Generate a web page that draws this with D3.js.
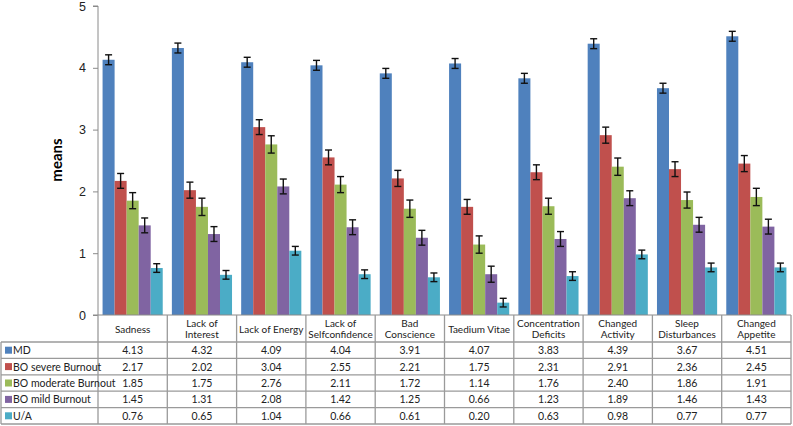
<!DOCTYPE html>
<html>
<head>
<meta charset="utf-8">
<script src="https://cdn.jsdelivr.net/npm/d3@7"></script>
<style>
  body { margin: 0; background: #fff; }
  svg { display: block; font-family: Lato, "Liberation Sans", sans-serif; }
</style>
</head>
<body>
<div id="wrapper"></div>
<script>
const categories = ["Sadness", "Lack of Interest", "Lack of Energy", "Lack of Selfconfidence",
  "Bad Conscience", "Taedium Vitae", "Concentration Deficits", "Changed Activity",
  "Sleep Disturbances", "Changed Appetite"]
const categoryLines = [["Sadness"], ["Lack of", "Interest"], ["Lack of Energy"], ["Lack of", "Selfconfidence"],
  ["Bad", "Conscience"], ["Taedium Vitae"], ["Concentration", "Deficits"], ["Changed", "Activity"],
  ["Sleep", "Disturbances"], ["Changed", "Appetite"]]
const seriesNames = ["MD", "BO severe Burnout", "BO moderate Burnout", "BO mild Burnout", "U/A"]

const md       = [4.13, 4.32, 4.09, 4.04, 3.91, 4.07, 3.83, 4.39, 3.67, 4.51]
const severe   = [2.17, 2.02, 3.04, 2.55, 2.21, 1.75, 2.31, 2.91, 2.36, 2.45]
const moderate = [1.85, 1.75, 2.76, 2.11, 1.72, 1.14, 1.76, 2.40, 1.86, 1.91]
const mild     = [1.45, 1.31, 2.08, 1.42, 1.25, 0.66, 1.23, 1.89, 1.46, 1.43]
const ua       = [0.76, 0.65, 1.04, 0.66, 0.61, 0.20, 0.63, 0.98, 0.77, 0.77]

// error bar half-widths (estimated)
const mdErr       = [0.08, 0.08, 0.08, 0.08, 0.08, 0.08, 0.08, 0.08, 0.08, 0.08]
const severeErr   = [0.12, 0.13, 0.12, 0.12, 0.13, 0.12, 0.12, 0.13, 0.12, 0.13]
const moderateErr = [0.13, 0.14, 0.14, 0.13, 0.14, 0.14, 0.13, 0.14, 0.13, 0.14]
const mildErr     = [0.12, 0.12, 0.12, 0.12, 0.12, 0.13, 0.12, 0.12, 0.12, 0.12]
const uaErr       = [0.07, 0.07, 0.07, 0.07, 0.07, 0.07, 0.07, 0.07, 0.07, 0.07]

const yTicks = [0, 1, 2, 3, 4, 5]
const colors = ["#4F81BD", "#C0504D", "#9BBB59", "#8064A2", "#4BACC6"]

const seriesValues = [md, severe, moderate, mild, ua]
const seriesErrors = [mdErr, severeErr, moderateErr, mildErr, uaErr]

const width = 793, height = 426
const plotLeft = 98, plotRight = 791, plotTop = 6, plotBottom = 315
const headerBottom = 342, rowH = 16.4

const svg = d3.select("#wrapper").append("svg")
  .attr("width", width).attr("height", height)

const x = d3.scaleBand().domain(categories).range([plotLeft, plotRight])
const xInner = d3.scaleBand().domain(seriesNames).range([0, x.bandwidth()])
  .paddingOuter(0.38).paddingInner(0)
const y = d3.scaleLinear().domain([0, 5]).range([plotBottom, plotTop])

// y axis
const yAxis = svg.append("g")
  .attr("transform", `translate(${plotLeft},0)`)
  .call(d3.axisLeft(y).tickValues(yTicks).tickSize(5).tickPadding(7).tickFormat(d3.format("d")))
yAxis.selectAll("line, path").attr("stroke", "#8a8a8a")
yAxis.select(".domain").attr("d", `M-5,${plotTop}H0V${plotBottom}`)
yAxis.selectAll("text").attr("font-size", 12.5).attr("fill", "#222")

svg.append("text")
  .attr("transform", `translate(62,160) rotate(-90)`)
  .attr("text-anchor", "middle")
  .attr("font-size", 15).attr("font-weight", "bold")
  .text("means")

// bars
const groups = svg.append("g").selectAll("g")
  .data(categories)
  .join("g")
  .attr("transform", d => `translate(${x(d)},0)`)

groups.each(function (cat, ci) {
  const g = d3.select(this)
  seriesNames.forEach((s, si) => {
    const v = seriesValues[si][ci]
    const e = seriesErrors[si][ci]
    const bx = xInner(s)
    const bw = xInner.bandwidth()
    g.append("rect")
      .attr("x", bx).attr("width", bw)
      .attr("y", y(v)).attr("height", y(0) - y(v))
      .attr("fill", colors[si])
    const cx = bx + bw / 2
    const eb = g.append("g").attr("stroke", "#111").attr("stroke-width", 1.4)
    eb.append("line").attr("x1", cx).attr("x2", cx).attr("y1", y(v + e)).attr("y2", y(v - e))
    eb.append("line").attr("x1", cx - 3.5).attr("x2", cx + 3.5).attr("y1", y(v + e)).attr("y2", y(v + e))
    eb.append("line").attr("x1", cx - 3.5).attr("x2", cx + 3.5).attr("y1", y(v - e)).attr("y2", y(v - e))
  })
})

// category axis line
svg.append("line")
  .attr("x1", plotLeft - 5).attr("x2", plotRight)
  .attr("y1", plotBottom).attr("y2", plotBottom)
  .attr("stroke", "#8a8a8a")

// data table
const grid = svg.append("g").attr("stroke", "#9a9a9a").attr("stroke-width", 1.3)
const tableBottom = headerBottom + rowH * seriesNames.length
categories.forEach(c => {
  grid.append("line").attr("x1", x(c)).attr("x2", x(c))
    .attr("y1", plotBottom).attr("y2", tableBottom)
})
grid.append("line").attr("x1", plotRight).attr("x2", plotRight)
  .attr("y1", plotBottom).attr("y2", tableBottom)
grid.append("line").attr("x1", 1).attr("x2", 1)
  .attr("y1", headerBottom).attr("y2", tableBottom)
for (let r = 0; r <= seriesNames.length; r++) {
  grid.append("line").attr("x1", 1).attr("x2", plotRight)
    .attr("y1", headerBottom + r * rowH).attr("y2", headerBottom + r * rowH)
}

// header labels
categoryLines.forEach((lines, i) => {
  const cx = x(categories[i]) + x.bandwidth() / 2
  const midY = (plotBottom + headerBottom) / 2
  const t = svg.append("text")
    .attr("text-anchor", "middle").attr("font-size", 10).attr("fill", "#222")
  lines.forEach((l, li) => {
    t.append("tspan").attr("x", cx)
      .attr("y", midY + 4 + (li - (lines.length - 1) / 2) * 11.5)
      .text(l)
  })
})

// rows
const fmt = d3.format(".2f")
seriesNames.forEach((s, si) => {
  const rowMid = headerBottom + rowH * si + rowH / 2
  svg.append("rect").attr("x", 5).attr("y", rowMid - 3.5)
    .attr("width", 7).attr("height", 7).attr("fill", colors[si])
  svg.append("text").attr("x", 13).attr("y", rowMid + 4)
    .attr("font-size", 10.5).attr("fill", "#222").text(s)
  seriesValues[si].forEach((v, ci) => {
    svg.append("text")
      .attr("x", x(categories[ci]) + x.bandwidth() / 2)
      .attr("y", rowMid + 4)
      .attr("text-anchor", "middle").attr("font-size", 10.5).attr("fill", "#222")
      .text(fmt(v))
  })
})
</script>
</body>
</html>
